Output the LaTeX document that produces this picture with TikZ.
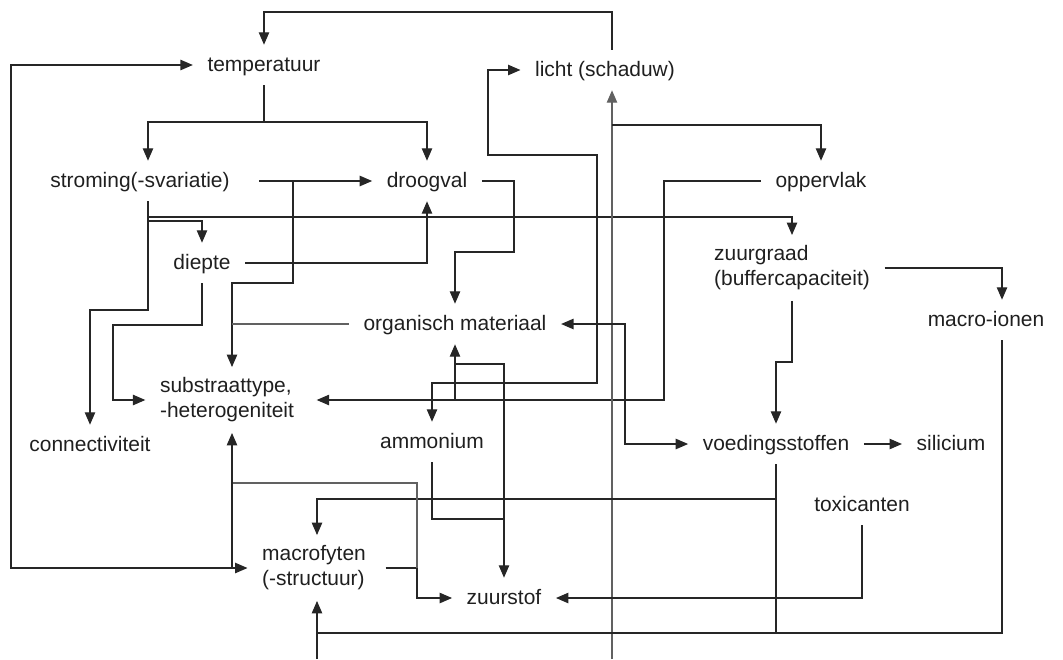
\documentclass[tikz,border=0pt]{standalone}
\usepackage{fontspec}
\setmainfont{Liberation Sans}
\usetikzlibrary{arrows.meta,calc}
\begin{document}
\begin{tikzpicture}[
		x=0.025cm, y=-0.025cm,
		every node/.style={font=\fontsize{14.9}{17.8}\selectfont, text=black!88},
		lbl/.style={inner xsep=0.36cm, inner ysep=0.22cm, text height=0.45cm, text depth=0.11cm},
		lbl2/.style={align=left, inner xsep=0.36cm, inner ysep=0.26cm},
		ln/.style={draw=black!85, line width=0.85pt},
		fade/.style={draw=black!62},
		arr/.style={ln, -{Triangle[length=3.1mm,width=2.6mm]}},
		arr2/.style={ln, {Triangle[length=3.1mm,width=2.6mm]}-{Triangle[length=3.1mm,width=2.6mm]}}
	]
	\useasboundingbox (0,0) rectangle (1063,659);
	\node[lbl] (temp) at (264,65) {temperatuur};
	\node[lbl] (licht) at (605,70) {licht (schaduw)};
	\node[lbl] (strom) at (140,181) {stroming(-svariatie)};
	\node[lbl] (droog) at (427,181) {droogval};
	\node[lbl] (opper) at (821,181) {oppervlak};
	\node[lbl] (diepte) at (202,263) {diepte};
	\node[lbl2] (zuur) at (792,268) {zuurgraad\\(buffercapaciteit)};
	\node[lbl] (ionen) at (986,320) {macro-ionen};
	\node[lbl] (organ) at (455,324) {organisch materiaal};
	\node[lbl2] (sub) at (227,400) {substraattype,\\-heterogeniteit};
	\node[lbl] (conn) at (90,445) {connectiviteit};
	\node[lbl] (ammon) at (432,442) {ammonium};
	\node[lbl] (voed) at (776,444) {voedingsstoffen};
	\node[lbl] (sili) at (951,444) {silicium};
	\node[lbl] (toxi) at (862,505) {toxicanten};
	\node[lbl2] (macro) at (314,568) {macrofyten\\(-structuur)};
	\node[lbl] (zstof) at (504,598) {zuurstof};

	\draw[arr] ($(licht.north)+(7,0)$) |- (264,12) -- (temp.north);
	\draw[arr] (temp.south) -- (264,122) -| ($(strom.north)+(8,0)$);
	\draw[arr] (264,122) -| (droog.north);
	\draw[arr] ($(strom.east)+(15,0)$) -- (droog.west);
	\draw[arr] (293,181) |- (232,283) -- ($(sub.north)+(5,0)$);
	\draw[ln,fade] (organ.west) -- (232,324);
	\draw[arr] ($(strom.south)+(8,0)$) |- (792,217) -- (zuur.north);
	\draw[arr] (148,217) |- (202,221) -- (diepte.north);
	\draw[arr] (148,221) |- (90,310) -- (conn.north);
	\draw[arr] (diepte.east) -| (droog.south);
	\draw[arr] (diepte.south) |- (113,325) |- (sub.west);
	\draw[arr] (droog.east) -- (514,181) |- (455,252) -- (organ.north);
	\draw[arr] (opper.west) -| (664,400) -- ($(sub.east)+(8,0)$);
	\draw[arr] (455,400) -- (organ.south);
	\draw[arr] (455,364) -| (zstof.north);
	\draw[ln] (ammon.south) |- (504,519);
	\draw[arr2] (licht.west) -- (488,70) |- (597,155) |- (432,383) -- (ammon.north);
	\draw[arr,fade] (612,659) -- ($(licht.south)+(7,0)$);
	\draw[arr] (612,125) -| (opper.north);
	\draw[arr2] (organ.east) -- (625,324) |- (voed.west);
	\draw[arr] (voed.east) -- (sili.west);
	\draw[arr] (zuur.east) -| ($(ionen.north)+(16,0)$);
	\draw[arr] (zuur.south) |- (776,362) -- (voed.north);
	\draw[arr] ($(ionen.south)+(16,0)$) |- (317,633) -- ($(macro.south)+(3,0)$);
	\draw[ln] (317,659) -- (317,633);
	\draw[arr] (voed.south) |- (317,499) -- ($(macro.north)+(3,0)$);
	\draw[ln] (776,499) -- (776,633);
	\draw[arr] (toxi.south) |- (zstof.east);
	\draw[arr] ($(macro.east)+(5,0)$) -| (417,598) -- (zstof.west);
	\draw[ln,fade] (417,568) |- (232,483);
	\draw[arr] (232,568) -- ($(sub.south)+(5,0)$);
	\draw[arr] (232,568) -| (11,65) -- (temp.west);
	\draw[arr] (232,568) -- (macro.west);
\end{tikzpicture}
\end{document}
